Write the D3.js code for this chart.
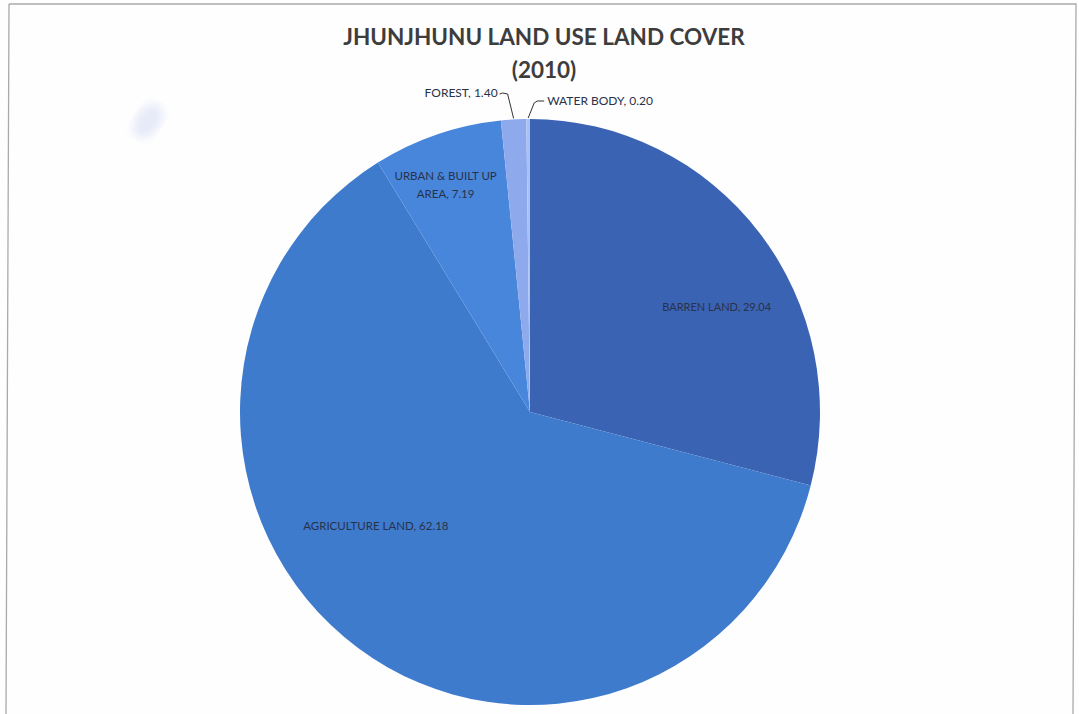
<!DOCTYPE html>
<html>
<head>
<meta charset="utf-8">
<script src="https://cdn.jsdelivr.net/npm/d3@7"></script>
<style>
  html, body { margin: 0; padding: 0; background: #fefefe; }
  svg { display: block; }
  text { font-family: Lato, "Open Sans", sans-serif; }
</style>
</head>
<body>
<svg id="chart" width="1079" height="714"></svg>
<script>
// Land use / land cover shares (%), clockwise from 12 o'clock
const categories = ["BARREN LAND", "AGRICULTURE LAND", "URBAN & BUILT UP AREA", "FOREST", "WATER BODY"];
const shares = [29.04, 62.18, 7.19, 1.40, 0.20];
const shareLabels = ["29.04", "62.18", "7.19", "1.40", "0.20"];
const sliceColors = ["#3b63b3", "#3f7bcd", "#4886dc", "#8eaaec", "#aac2f2"];

const titleLines = ["JHUNJHUNU LAND USE LAND COVER", "(2010)"];

const svg = d3.select("#chart");
const cx = 530, cy = 412, r = 290, ry = 293;
const sy = ry / r;

// outer frame
svg.append("path")
  .attr("d", "M9,4 L1076,4 L1073,714 M9,4 L6,714")
  .attr("fill", "none").attr("stroke", "#a9a9a9").attr("stroke-width", 1.3);

// faint smudge near the top left corner
const defs = svg.append("defs");
defs.append("filter").attr("id", "soft").append("feGaussianBlur").attr("stdDeviation", 5);
svg.append("ellipse").attr("cx", 148).attr("cy", 121).attr("rx", 12).attr("ry", 19)
  .attr("transform", "rotate(35,148,121)")
  .attr("fill", "#c8d2f2").attr("opacity", 0.45).attr("filter", "url(#soft)");

// title
svg.selectAll("text.title").data(titleLines).join("text")
  .attr("class", "title")
  .attr("x", 544).attr("y", (d, i) => 45 + i * 33)
  .attr("text-anchor", "middle")
  .attr("font-size", 22.5).attr("font-weight", 700).attr("fill", "#3d3d3d")
  .text(d => d);

const data = categories.map((c, i) => ({ cat: c, value: shares[i], label: shareLabels[i], color: sliceColors[i] }));

const pie = d3.pie().sort(null).value(d => d.value);
const arcs = pie(data);
const arc = d3.arc().innerRadius(0).outerRadius(r);

const g = svg.append("g")
  .attr("transform", `translate(${cx},${cy}) scale(1,${sy})`);

g.selectAll("path").data(arcs).join("path")
  .attr("d", arc)
  .attr("fill", d => d.data.color);

// point at angle a (radians, clockwise from top) and radius rad
function polar(a, rad) {
  return [cx + rad * Math.sin(a), cy - rad * Math.cos(a) * sy];
}
const labelColor = "#28324a";
const mid = d => (d.startAngle + d.endAngle) / 2;
const [barren, agri, urban, forest, water] = arcs;

// inside labels: anchor on the slice's arc centroid, then nudged
const labelArc = d3.arc().innerRadius(0).outerRadius(r);
function centroid(d) {
  const c = labelArc.centroid(d);
  return [cx + c[0], cy + c[1] * sy];
}

let p = centroid(barren);
svg.append("text").attr("x", p[0] + 72).attr("y", p[1] - 11)
  .attr("text-anchor", "middle").attr("font-size", 11).attr("fill", labelColor)
  .text(`${barren.data.cat}, ${barren.data.label}`);

p = centroid(agri);
svg.append("text").attr("x", p[0] - 68).attr("y", p[1])
  .attr("text-anchor", "middle").attr("font-size", 11.5).attr("fill", labelColor)
  .text(`${agri.data.cat}, ${agri.data.label}`);

p = polar(mid(urban), 0.8 * r);
const ut = svg.append("text").attr("text-anchor", "middle").attr("font-size", 11.5).attr("fill", labelColor);
ut.append("tspan").attr("x", p[0] - 10).attr("y", p[1] - 10).text("URBAN & BUILT UP");
ut.append("tspan").attr("x", p[0] - 10).attr("y", p[1] + 8).text(`AREA, ${urban.data.label}`);

// outside labels with leader lines
const pieTop = cy - ry;
let e = polar(mid(forest), r);
svg.append("path")
  .attr("d", `M${e[0]},${e[1] - 1} L${e[0] - 6},${pieTop - 25} L${e[0] - 11},${pieTop - 26} L${e[0] - 14},${pieTop - 25}`)
  .attr("fill", "none").attr("stroke", "#333").attr("stroke-width", 1);
svg.append("text").attr("x", e[0] - 16).attr("y", pieTop - 22)
  .attr("text-anchor", "end").attr("font-size", 12).attr("fill", labelColor)
  .text(`${forest.data.cat}, ${forest.data.label}`);

e = polar(mid(water), r);
svg.append("path")
  .attr("d", `M${e[0]},${e[1] - 1} L${e[0] + 6},${pieTop - 16} L${e[0] + 9},${pieTop - 18} L${e[0] + 16},${pieTop - 18}`)
  .attr("fill", "none").attr("stroke", "#333").attr("stroke-width", 1);
svg.append("text").attr("x", e[0] + 19).attr("y", pieTop - 14)
  .attr("text-anchor", "start").attr("font-size", 12).attr("fill", labelColor)
  .text(`${water.data.cat}, ${water.data.label}`);
</script>
</body>
</html>
